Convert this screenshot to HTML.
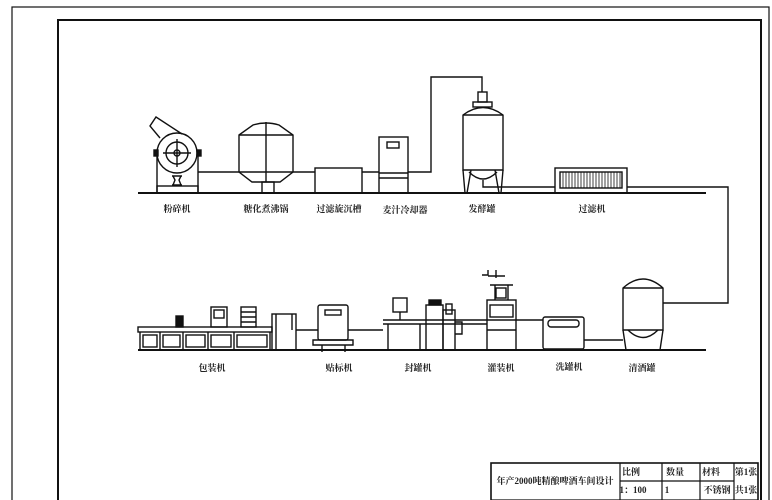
<!DOCTYPE html><html><head><meta charset="utf-8"><style>body{margin:0;background:#fff}svg{display:block}text{font-family:"Liberation Serif","Noto Serif CJK SC",serif;font-size:9px;font-weight:bold;fill:#222;text-anchor:middle}</style></head><body>
<svg width="772" height="500" viewBox="0 0 772 500" fill="none" stroke="#111" stroke-width="1.4">
<rect x="12" y="7" width="757" height="500" stroke-width="1.2"/>
<rect x="58" y="20" width="703" height="490" stroke-width="2"/>
<!-- ground lines -->
<line x1="138" y1="193" x2="706" y2="193" stroke-width="2"/>
<line x1="138" y1="350" x2="706" y2="350" stroke-width="2"/>
<!-- crusher -->
<path d="M157 193V150M198 193V150"/><rect x="157" y="186" width="41" height="7"/>
<path d="M160 138L150 126L156 117L182 134"/>
<circle cx="177" cy="153" r="20"/><circle cx="177" cy="153" r="11"/><circle cx="177" cy="153" r="3"/>
<path d="M163 153H191M177 139V167"/>
<rect x="154" y="150" width="4" height="6" fill="#111"/><rect x="197" y="150" width="4" height="6" fill="#111"/>
<path d="M172 176h10M172 185h10M173 176l2 4-2 5M181 176l-2 4 2 5"/>
<!-- sacch pot -->
<path d="M239 135L253 125Q266 121 279 125L293 135V172L280 182H252L239 172Z"/>
<path d="M239 135H293M239 172H293M266 122V182"/>
<rect x="262" y="182" width="12" height="11"/>
<!-- settling -->
<rect x="315" y="168" width="47" height="25"/>
<!-- cooler -->
<rect x="379" y="137" width="29" height="56"/><rect x="387" y="142" width="12" height="6"/>
<path d="M379 173H408M379 178H408"/>
<!-- pipes top -->
<path d="M198 172H239M293 172H315M362 172H379M408 172H431V77H482V92"/>
<!-- fermenter -->
<rect x="478" y="92" width="9" height="10"/><rect x="473" y="102" width="19" height="5"/>
<path d="M463 170V115Q483 100 503 115V170Z"/>
<path d="M463 115H503M463 170L465 193M503 170L501 193M471 170L467 193M495 170L499 193M469 172Q483 186 497 172"/>
<path d="M483 180V187H555M627 187H728V303H663"/>
<!-- filter -->
<rect x="555" y="168" width="72" height="25"/><rect x="560" y="172" width="62" height="16"/>
<path d="M563 172v16M566 172v16M569 172v16M572 172v16M575 172v16M578 172v16M581 172v16M584 172v16M587 172v16M590 172v16M593 172v16M596 172v16M599 172v16M602 172v16M605 172v16M608 172v16M611 172v16M614 172v16M617 172v16M620 172v16" stroke-width="0.8"/>
<!-- clear tank -->
<path d="M623 330V288Q643 270 663 288V330Z"/><path d="M623 288H663M623 330L626 350M663 330L660 350M628 330Q643 345 658 330"/>
<path d="M584 340H623"/>
<!-- washer -->
<rect x="543" y="317" width="41" height="32" rx="2"/><rect x="548" y="320" width="31" height="7" rx="3"/>
<!-- filler -->
<rect x="487" y="300" width="29" height="50"/><rect x="490" y="305" width="23" height="12"/>
<path d="M487 330H516M495 285V300M508 285V300M490 285H513"/>
<path d="M482 275h6v-5M488 276H505M496 270v8"/><rect x="496" y="288" width="10" height="10"/>
<!-- conveyor -->
<path d="M383 320H543M383 324H487"/>
<path d="M388 324V350M420 324V350"/>
<!-- capper -->
<rect x="393" y="298" width="14" height="14"/><path d="M400 312V320"/>
<rect x="426" y="305" width="17" height="45"/><rect x="443" y="310" width="12" height="40"/>
<rect x="429" y="300" width="12" height="5" fill="#111"/><rect x="446" y="304" width="6" height="10"/>
<path d="M455 322H462V334H455"/>
<!-- labeler -->
<rect x="318" y="305" width="30" height="35" rx="2"/><rect x="325" y="310" width="16" height="5"/>
<path d="M313 340H353V345H313Z M322 345V352M345 345V352"/>
<path d="M296 330H318M348 330H383"/>
<!-- packer -->
<rect x="138" y="327" width="134" height="5"/>
<path d="M140 332V350M270 332V350M160 332V350M183 332V350M208 332V350M234 332V350"/>
<rect x="143" y="335" width="14" height="12"/><rect x="163" y="335" width="17" height="12"/><rect x="186" y="335" width="19" height="12"/><rect x="211" y="335" width="20" height="12"/><rect x="237" y="335" width="30" height="12"/>
<rect x="176" y="316" width="7" height="11" fill="#111"/>
<rect x="211" y="307" width="16" height="20"/><rect x="214" y="310" width="10" height="8"/>
<rect x="241" y="307" width="15" height="20"/><path d="M241 312H256M241 317H256M241 322H256"/>
<rect x="272" y="314" width="24" height="36"/><path d="M276 314V350M292 314V330"/>
<!-- labels -->
<g stroke="none">
<text x="177" y="212">粉碎机</text><text x="266" y="212">糖化煮沸锅</text><text x="339" y="212">过滤旋沉槽</text><text x="405" y="213">麦汁冷却器</text><text x="482" y="212">发酵罐</text><text x="592" y="212">过滤机</text>
<text x="212" y="371">包装机</text><text x="339" y="371">贴标机</text><text x="418" y="371">封罐机</text><text x="501" y="371">灌装机</text><text x="569" y="370">洗罐机</text><text x="642" y="371">清酒罐</text>
</g>
<!-- title block -->
<rect x="491" y="463" width="267" height="40" stroke-width="1.6"/>
<path d="M620 463V500M662 463V500M700 463V500M734 463V500M620 481H734M491 500H758M525 500V505M560 500V505" stroke-width="1.2"/>
<g stroke="none" style="font-size:7px;font-weight:normal">
<text x="555" y="484">年产2000吨精酿啤酒车间设计</text>
<text x="631" y="475">比例</text><text x="675" y="475">数量</text><text x="711" y="475">材料</text><text x="746" y="475">第1张</text>
<text x="633" y="493">1：100</text><text x="667" y="493">1</text><text x="717" y="493">不锈钢</text><text x="746" y="493">共1张</text>
</g>
</svg></body></html>
